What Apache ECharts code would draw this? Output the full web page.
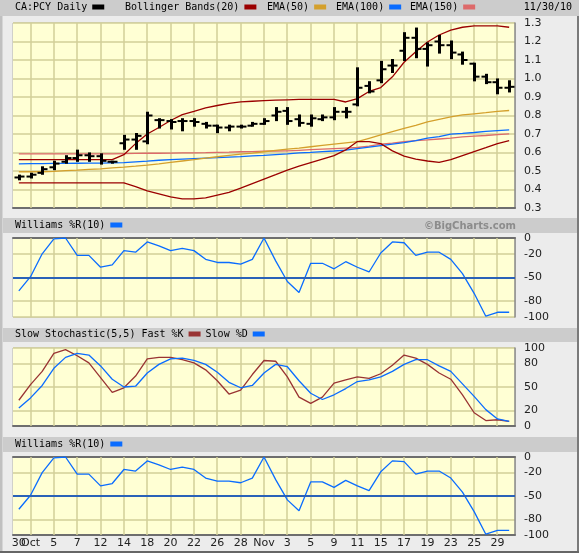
<!DOCTYPE html>
<html>
<head>
<meta charset="utf-8">
<script src="https://cdn.jsdelivr.net/npm/echarts@6/dist/echarts.min.js"></script>
<style>
  html, body { margin: 0; padding: 0; background: #ececec; }
  #chart { width: 579px; height: 553px; }
</style>
</head>
<body>
<div id="chart"></div>
<script>
const dates = [
  "9/30", "10/1", "10/4", "10/5", "10/6", "10/7", "10/8", "10/12", "10/13", "10/14", "10/15",
  "10/18", "10/19", "10/20", "10/21", "10/22", "10/25", "10/26", "10/27", "10/28", "10/29",
  "11/1", "11/2", "11/3", "11/4", "11/5", "11/8", "11/9", "11/10", "11/11", "11/12",
  "11/15", "11/16", "11/17", "11/18", "11/19", "11/22", "11/23", "11/24", "11/25", "11/26",
  "11/29", "11/30",
];
const monthNames = { 9: "Sep", 10: "Oct", 11: "Nov" };

const priceOpen = [0.465, 0.47, 0.49, 0.52, 0.55, 0.57, 0.585, 0.58, 0.55, 0.65, 0.67, 0.66, 0.775, 0.77, 0.77, 0.77, 0.755, 0.745, 0.735, 0.74, 0.745, 0.755, 0.80, 0.825, 0.78, 0.755, 0.78, 0.79, 0.82, 0.86, 0.96, 0.99, 1.07, 1.15, 1.22, 1.16, 1.20, 1.18, 1.13, 1.08, 1.01, 0.98, 0.95];
const priceHigh = [0.475, 0.485, 0.52, 0.55, 0.58, 0.61, 0.595, 0.59, 0.55, 0.69, 0.70, 0.815, 0.78, 0.775, 0.78, 0.78, 0.76, 0.745, 0.745, 0.745, 0.76, 0.78, 0.84, 0.84, 0.80, 0.80, 0.80, 0.84, 0.84, 1.055, 0.98, 1.09, 1.10, 1.245, 1.27, 1.19, 1.23, 1.20, 1.14, 1.08, 1.02, 0.995, 0.985];
const priceLow = [0.455, 0.465, 0.485, 0.51, 0.545, 0.555, 0.555, 0.54, 0.545, 0.62, 0.62, 0.65, 0.735, 0.73, 0.72, 0.745, 0.735, 0.71, 0.72, 0.735, 0.745, 0.755, 0.775, 0.755, 0.745, 0.745, 0.775, 0.78, 0.79, 0.855, 0.925, 0.98, 1.035, 1.10, 1.115, 1.07, 1.14, 1.11, 1.08, 0.99, 0.975, 0.92, 0.93];
const priceClose = [0.47, 0.48, 0.51, 0.54, 0.57, 0.585, 0.58, 0.555, 0.55, 0.67, 0.69, 0.80, 0.775, 0.765, 0.77, 0.765, 0.745, 0.735, 0.74, 0.74, 0.755, 0.77, 0.82, 0.77, 0.76, 0.785, 0.79, 0.82, 0.82, 0.95, 0.93, 1.05, 1.07, 1.22, 1.16, 1.18, 1.18, 1.14, 1.10, 1.01, 0.98, 0.95, 0.955];

const bbUpper = [0.561, 0.561, 0.561, 0.561, 0.561, 0.561, 0.561, 0.561, 0.561, 0.588, 0.648, 0.700, 0.735, 0.773, 0.805, 0.822, 0.841, 0.854, 0.866, 0.874, 0.877, 0.880, 0.883, 0.885, 0.887, 0.887, 0.887, 0.887, 0.873, 0.891, 0.930, 0.951, 1.009, 1.088, 1.145, 1.197, 1.235, 1.262, 1.277, 1.284, 1.284, 1.284, 1.277];
const bbLower = [0.436, 0.436, 0.436, 0.436, 0.436, 0.436, 0.436, 0.436, 0.436, 0.436, 0.416, 0.392, 0.376, 0.360, 0.349, 0.349, 0.355, 0.370, 0.385, 0.407, 0.432, 0.456, 0.480, 0.505, 0.526, 0.545, 0.564, 0.583, 0.614, 0.659, 0.659, 0.648, 0.609, 0.580, 0.564, 0.554, 0.547, 0.561, 0.583, 0.605, 0.626, 0.648, 0.664];
const ema50 = [0.496, 0.496, 0.496, 0.498, 0.502, 0.505, 0.509, 0.512, 0.517, 0.521, 0.526, 0.532, 0.539, 0.547, 0.554, 0.561, 0.570, 0.577, 0.584, 0.591, 0.597, 0.604, 0.611, 0.618, 0.624, 0.631, 0.638, 0.645, 0.652, 0.659, 0.677, 0.695, 0.713, 0.730, 0.747, 0.765, 0.779, 0.792, 0.803, 0.809, 0.815, 0.822, 0.827];
const ema100 = [0.539, 0.540, 0.540, 0.541, 0.541, 0.542, 0.543, 0.543, 0.544, 0.545, 0.549, 0.553, 0.558, 0.561, 0.564, 0.567, 0.570, 0.572, 0.575, 0.578, 0.582, 0.585, 0.589, 0.593, 0.598, 0.601, 0.605, 0.608, 0.613, 0.621, 0.629, 0.637, 0.645, 0.653, 0.664, 0.678, 0.686, 0.699, 0.703, 0.708, 0.714, 0.718, 0.722];
const ema150 = [0.593, 0.593, 0.593, 0.593, 0.593, 0.593, 0.593, 0.593, 0.593, 0.594, 0.595, 0.596, 0.596, 0.597, 0.598, 0.598, 0.599, 0.601, 0.602, 0.604, 0.605, 0.607, 0.608, 0.609, 0.612, 0.615, 0.618, 0.621, 0.624, 0.627, 0.635, 0.645, 0.651, 0.658, 0.664, 0.668, 0.673, 0.678, 0.684, 0.688, 0.692, 0.697, 0.701];

const williamsR = [-67, -49, -20, -1, 0, -22, -22, -37, -34, -16, -18, -5, -10, -16, -13, -16, -27, -31, -31, -33, -27, 0, -29, -55, -69, -32, -32, -39, -30, -37, -43, -19, -5, -6, -22, -18, -18, -27, -45, -70, -99, -94, -94];
const stochK = [33, 53, 70, 93, 98, 90, 81, 62, 43, 49, 64, 86, 88, 88, 85, 81, 72, 58, 41, 46, 66, 84, 83, 63, 37, 29, 37, 55, 59, 63, 61, 67, 78, 91, 87, 79, 68, 60, 40, 17, 7, 8, 6];
const stochD = [23, 36, 52, 74, 88, 93, 91, 77, 60, 50, 51, 68, 79, 86, 87, 84, 79, 69, 56, 49, 52, 68, 79, 76, 58, 42, 34, 40, 48, 57, 59, 63, 70, 79, 85, 85, 77, 70, 54, 38, 21, 9, 6];

const priceRange = [0.3, 1.3];
const priceInterval = 0.1;
const williamsRange = [-100, 0];
const williamsTicks = [0, -20, -50, -80, -100];
const williamsMid = -50;
const stochRange = [0, 100];
const stochTicks = [0, 20, 50, 80, 100];
// a vertical grid line on every second trading day, starting Oct 1
const dayGridTicks = dates.map((d, i) => i).filter((i) => i % 2 === 1);

const gridColor = "#d2cf98";
const plotBg = "#ffffd4";
const labelFont = { fontFamily: "DejaVu Sans", fontSize: 11, color: "#222" };
const legendFont = { fontFamily: "DejaVu Sans Mono", fontSize: 10, color: "#000" };

const chart = echarts.init(document.getElementById("chart"));

const ohlc = dates.map((d, i) => [i, priceOpen[i], priceHigh[i], priceLow[i], priceClose[i]]);

function renderBar(params, api) {
  const i = api.value(0);
  const hi = api.coord([i, api.value(2)]);
  const lo = api.coord([i, api.value(3)]);
  const op = api.coord([i, api.value(1)]);
  const cl = api.coord([i, api.value(4)]);
  const x = Math.round(hi[0]) + 0.5;
  return {
    type: "group",
    children: [
      { type: "line", shape: { x1: x, y1: hi[1] - 1, x2: x, y2: lo[1] + 1 }, style: { stroke: "#000", lineWidth: 3 } },
      { type: "line", shape: { x1: x - 5, y1: op[1], x2: x, y2: op[1] }, style: { stroke: "#000", lineWidth: 2 } },
      { type: "line", shape: { x1: x, y1: cl[1], x2: x + 5, y2: cl[1] }, style: { stroke: "#000", lineWidth: 2 } },
    ],
  };
}

// a thin full-height bar at a day index, from the axis floor to its ceiling
function renderDayLine(params, api) {
  const i = api.value(0);
  const bottom = api.coord([i, api.value(1)]);
  const top = api.coord([i, api.value(2)]);
  return {
    type: "rect",
    shape: { x: Math.round(bottom[0]) - 0.75, y: top[1], width: 1.5, height: bottom[1] - top[1] },
    style: { fill: gridColor },
  };
}

const grids = [
  { left: 13, top: 23, width: 502, height: 185 },
  { left: 13, top: 238, width: 502, height: 79 },
  { left: 13, top: 348, width: 502, height: 78 },
  { left: 13, top: 457, width: 502, height: 78 },
].map((g) => ({ ...g, show: true, backgroundColor: "transparent", borderColor: "#b4b4a8", borderWidth: 1 }));

function dayLabel(value) {
  const [m, d] = value.split("/");
  return d === "1" ? monthNames[m] : d;
}

function xAxisFor(gridIndex, labelFilter) {
  return {
    type: "category",
    gridIndex,
    position: "bottom",
    data: dates,
    boundaryGap: true,
    axisTick: { show: false },
    axisLine: { show: true, lineStyle: { color: "#6e6e6e", width: 2 } },
    splitLine: { show: false },
    axisLabel: {
      show: !!labelFilter,
      ...labelFont,
      margin: 3,
      interval: labelFilter || 0,
      formatter: dayLabel,
    },
  };
}

function yAxisFor(gridIndex, range, extra) {
  return {
    type: "value",
    gridIndex,
    position: "right",
    min: range[0],
    max: range[1],
    axisLine: { show: true, lineStyle: { color: "#8a8a8a", width: 1.5 } },
    splitLine: { show: true, lineStyle: { color: gridColor, width: 1.5 } },
    splitArea: { show: true, areaStyle: { color: [plotBg] } },
    ...extra,
  };
}

function customTicks(values) {
  return {
    axisTick: { show: false, customValues: values },
    axisLabel: { ...labelFont, margin: 9, customValues: values },
  };
}

function lineSeries(name, data, color, xi, yi, extra) {
  return {
    name,
    type: "line",
    data,
    xAxisIndex: xi,
    yAxisIndex: yi,
    symbol: "none",
    silent: true,
    z: 4,
    lineStyle: { color, width: 1.3 },
    itemStyle: { color },
    ...extra,
  };
}

// grid lines share the name of their panel's legend entry, listed after the real series
function dayGridSeries(name, color, gridIndex, range) {
  return {
    name,
    type: "custom",
    xAxisIndex: gridIndex,
    yAxisIndex: gridIndex,
    silent: true,
    z: 3,
    itemStyle: { color },
    renderItem: renderDayLine,
    encode: { x: 0, y: [1, 2] },
    data: dayGridTicks.map((i) => [i, range[0], range[1]]),
  };
}

const midLine = {
  silent: true,
  symbol: "none",
  label: { show: false },
  lineStyle: { color: "#2a62b8", width: 2, type: "solid" },
  data: [{ yAxis: williamsMid }],
};

function legendAt(left, top, names, itemGap = 6) {
  return {
    left,
    top,
    padding: 0,
    itemGap,
    align: "right",
    icon: "rect",
    itemWidth: 12,
    itemHeight: 5,
    selectedMode: false,
    textStyle: legendFont,
    data: names,
  };
}

const option = {
  animation: false,
  grid: grids,
  xAxis: [
    xAxisFor(0, null),
    xAxisFor(1, null),
    xAxisFor(2, null),
    xAxisFor(3, (index) => index % 2 === 1),
    // the first day label sits on its own axis so it is not dropped for touching "Oct"
    xAxisFor(3, (index) => index === 0),
  ],
  yAxis: [
    yAxisFor(0, priceRange, {
      interval: priceInterval,
      axisTick: { show: false },
      axisLabel: { ...labelFont, margin: 9, formatter: (v) => v.toFixed(1) },
    }),
    yAxisFor(1, williamsRange, customTicks(williamsTicks)),
    yAxisFor(2, stochRange, customTicks(stochTicks)),
    yAxisFor(3, williamsRange, customTicks(williamsTicks)),
  ],
  legend: [
    legendAt(15, 2, ["CA:PCY Daily"]),
    legendAt(125, 2, ["Bollinger Bands(20)"]),
    legendAt(267, 2, ["EMA(50)"]),
    legendAt(336, 2, ["EMA(100)"]),
    legendAt(410, 2, ["EMA(150)"]),
    legendAt(15, 220, ["Williams %R(10)"]),
    legendAt(15, 329, ["Slow Stochastic(5,5) Fast %K", "Slow %D"], 5),
    legendAt(15, 439, ["Williams %R(10)"]),
  ],
  graphic: [
    { type: "rect", z: -1, shape: { x: 0, y: 0, width: 579, height: 16 }, style: { fill: "#cccccc" }, silent: true },
    { type: "rect", z: -1, shape: { x: 3, y: 218, width: 576, height: 15 }, style: { fill: "#cccccc" }, silent: true },
    { type: "rect", z: -1, shape: { x: 3, y: 328, width: 576, height: 14 }, style: { fill: "#cccccc" }, silent: true },
    { type: "rect", z: -1, shape: { x: 3, y: 437, width: 576, height: 15 }, style: { fill: "#cccccc" }, silent: true },
    { type: "rect", shape: { x: 0, y: 16, width: 2.5, height: 537 }, style: { fill: "#c0c0c0" }, silent: true },
    { type: "rect", shape: { x: 577, y: 16, width: 2, height: 537 }, style: { fill: "#7a7a7a" }, silent: true },
    { type: "rect", shape: { x: 0, y: 551, width: 579, height: 2 }, style: { fill: "#666666" }, silent: true },
    {
      type: "text", right: 7, top: 2, silent: true,
      style: { text: "11/30/10", font: "10px 'DejaVu Sans Mono'", fill: "#000" },
    },
    {
      type: "text", x: 516, y: 226, silent: true,
      style: { text: "\u00a9BigCharts.com", font: "bold 10px 'DejaVu Sans'", fill: "#8c8c8c", align: "right", verticalAlign: "middle" },
    },
  ],
  series: [
    lineSeries("EMA(150)", ema150, "#dd6a6a", 0, 0),
    lineSeries("EMA(100)", ema100, "#0a6cff", 0, 0),
    lineSeries("EMA(50)", ema50, "#d4a02c", 0, 0),
    lineSeries("Bollinger Bands(20)", bbUpper, "#9b0000", 0, 0),
    lineSeries("Bollinger Bands(20)", bbLower, "#9b0000", 0, 0),
    {
      name: "CA:PCY Daily",
      type: "custom",
      xAxisIndex: 0,
      yAxisIndex: 0,
      silent: true,
      itemStyle: { color: "#000" },
      renderItem: renderBar,
      encode: { x: 0, y: [1, 2, 3, 4] },
      data: ohlc,
      z: 5,
    },
    lineSeries("Williams %R(10)", williamsR, "#0a6cff", 1, 1, { markLine: midLine }),
    lineSeries("Slow Stochastic(5,5) Fast %K", stochK, "#993333", 2, 2),
    lineSeries("Slow %D", stochD, "#0a6cff", 2, 2),
    lineSeries("Williams %R(10)", williamsR, "#0a6cff", 3, 3, { markLine: midLine }),
    dayGridSeries("CA:PCY Daily", "#000", 0, priceRange),
    dayGridSeries("Williams %R(10)", "#0a6cff", 1, williamsRange),
    dayGridSeries("Slow %D", "#0a6cff", 2, stochRange),
    dayGridSeries("Williams %R(10)", "#0a6cff", 3, williamsRange),
  ],
};

chart.setOption(option);
</script>
</body>
</html>
